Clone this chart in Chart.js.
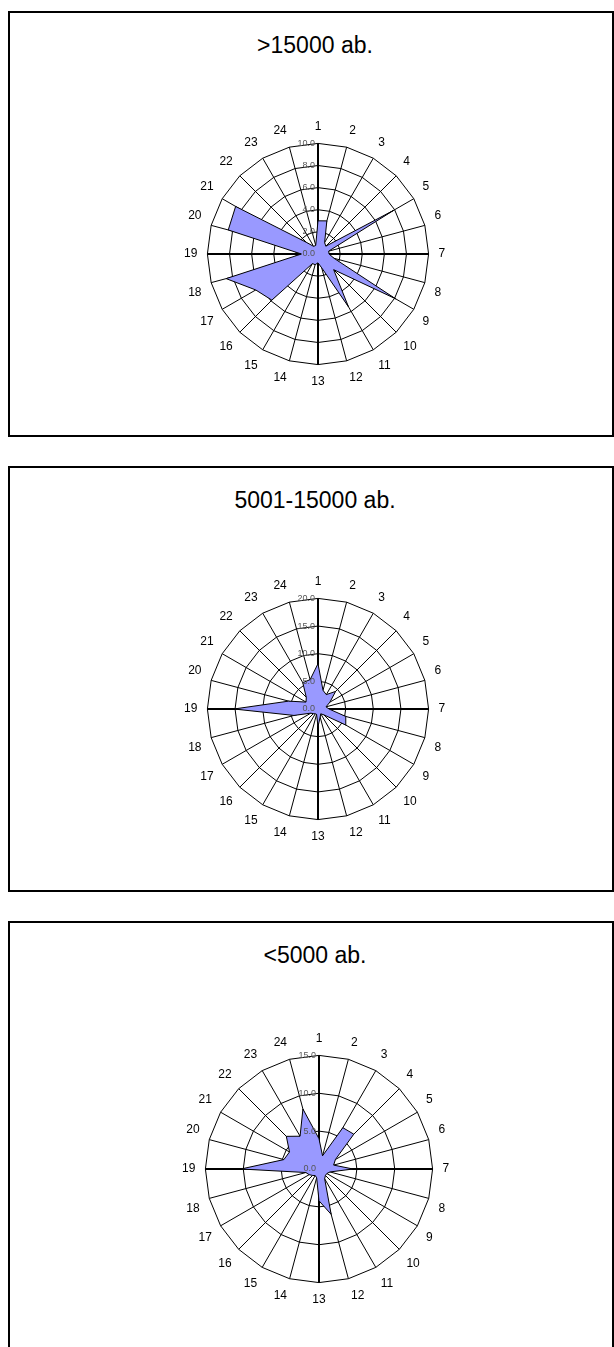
<!DOCTYPE html>
<html>
<head>
<meta charset="utf-8">
<script src="https://cdn.jsdelivr.net/npm/chart.js@4.4.0/dist/chart.umd.min.js"></script>
<style>
  html, body { margin:0; padding:0; background:#fff; width:614px; height:1347px; overflow:hidden; position:relative; }
  .panel { position:absolute; left:8px; width:602px; border:2px solid #000; }
  .title { position:absolute; left:215px; width:200px; text-align:center; font-family:"Liberation Sans", Arial, sans-serif; font-size:23px; line-height:23px; color:#000; }
  canvas { position:absolute; }
</style>
</head>
<body>
<div class="panel" style="top:11px;height:422px"></div>
<div class="panel" style="top:466px;height:422px"></div>
<div class="panel" style="top:921px;height:440px"></div>
<div class="title" id="t0" style="top:34px"></div>
<div class="title" id="t1" style="top:489px"></div>
<div class="title" id="t2" style="top:944px"></div>
<canvas id="c0" width="270" height="270" style="left:180px;top:119px"></canvas>
<canvas id="c1" width="270" height="270" style="left:180px;top:574px"></canvas>
<canvas id="c2" width="276" height="276" style="left:178px;top:1031px"></canvas>
<script>
// hours of the day, clockwise from the top
var hours = ['1','2','3','4','5','6','7','8','9','10','11','12',
             '13','14','15','16','17','18','19','20','21','22','23','24'];

var titles = ['>15000 ab.', '5001-15000 ab.', '<5000 ab.'];

// >15000 ab.
var bigTowns = [3.0, 3.1, 1.2, 1.0, 7.9, 1.0, 1.0, 1.5, 8.1, 2.0, 5.5, 1.3,
                0.8, 1.0, 1.0, 5.9, 6.5, 8.6, 1.5, 8.4, 8.6, 1.5, 0.8, 0.8];
// 5001-15000 ab.
var midTowns = [8.2, 3.5, 3.0, 4.5, 2.5, 1.5, 2.0, 5.2, 5.8, 1.5, 1.0, 1.5,
                3.2, 1.0, 1.0, 1.2, 1.5, 4.5, 15.2, 5.5, 2.5, 3.0, 5.5, 5.5];
// <5000 ab.
var smallTowns = [4.0, 1.8, 6.3, 6.5, 2.5, 2.0, 4.5, 1.5, 1.2, 1.2, 1.5, 6.2,
                  4.2, 1.2, 1.0, 1.2, 1.5, 1.8, 10.3, 4.8, 4.5, 6.1, 5.0, 8.2];

var scaleMax = [10, 20, 15];
var scaleStep = [2, 5, 5];

// value labels left of the vertical axis, like the original
var tickLabels = {
    id: 'tickLabels',
    afterDatasetsDraw: function (chart) {
        var scale = chart.scales.r;
        var c = chart.ctx;
        c.save();
        c.font = '9px "Liberation Sans", Arial, sans-serif';
        c.fillStyle = '#555';
        c.textAlign = 'right';
        c.textBaseline = 'middle';
        scale.ticks.forEach(function (t) {
            var d = scale.getDistanceFromCenterForValue(t.value);
            c.fillText(t.value.toFixed(1), scale.xCenter - 3, scale.yCenter - d);
        });
        c.restore();
    }
};

function drawRadar(i, values) {
    document.getElementById('t' + i).textContent = titles[i];
    var ctx = document.getElementById('c' + i).getContext('2d');
    new Chart(ctx, {
        type: 'radar',
        data: {
            labels: hours,
            datasets: [{
                data: values,
                backgroundColor: '#9999ff',
                borderColor: '#000',
                borderWidth: 1,
                pointRadius: 0,
                fill: true
            }]
        },
        options: {
            responsive: false,
            animation: false,
            devicePixelRatio: 1,
            plugins: { legend: { display: false }, tooltip: { enabled: false } },
            scales: {
                r: {
                    min: 0,
                    max: scaleMax[i],
                    ticks: { stepSize: scaleStep[i], display: false },
                    grid: { color: '#000', lineWidth: 1, circular: false },
                    angleLines: {
                        color: '#000',
                        lineWidth: function (c) { return c.index % 6 === 0 ? 2 : 1; }
                    },
                    pointLabels: {
                        color: '#000',
                        padding: 10,
                        font: { family: 'Liberation Sans', size: 12 }
                    }
                }
            }
        },
        plugins: [tickLabels]
    });
}

drawRadar(0, bigTowns);
drawRadar(1, midTowns);
drawRadar(2, smallTowns);
</script>
</body>
</html>
